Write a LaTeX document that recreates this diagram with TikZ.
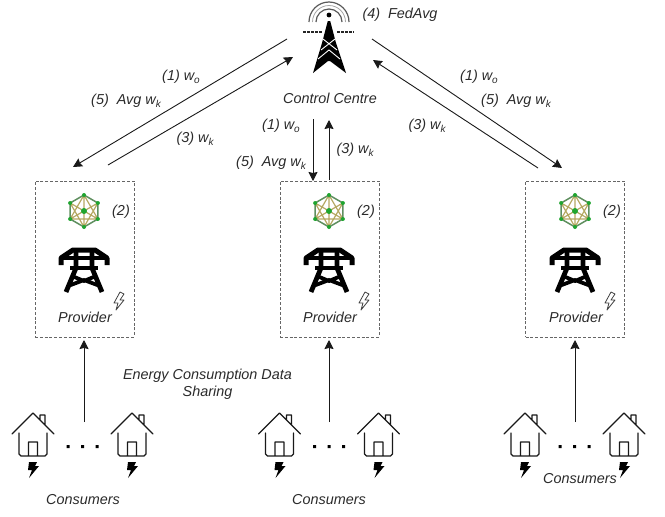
\documentclass[tikz,border=0pt]{standalone}
\usepackage{fontspec}
\setmainfont{Liberation Sans}
\usetikzlibrary{arrows.meta}
\definecolor{txt}{HTML}{2A2A2A}
\definecolor{netgreen}{HTML}{5F8F5F}
\definecolor{netolive}{HTML}{B5A862}
\definecolor{netdot}{HTML}{1FA52F}
\newcommand{\lowsub}[1]{\raisebox{-0.35ex}{\fontsize{10}{12}\selectfont #1}}
\tikzset{
  x=1pt,y=-1pt,
  lbl/.style={font=\itshape\fontsize{14.4}{17}\selectfont,text=txt,inner sep=0pt,align=center},
  conn/.style={draw=black!90,line width=0.9pt,-{Stealth[inset=1pt,length=9pt,width=9pt]}},
  provbox/.style={draw=black!60,dash pattern=on 3pt off 1.8pt,line width=0.9pt,minimum width=99pt,minimum height=156pt,inner sep=0pt},
  pics/tower/.style={code={
    \draw[line width=1.2pt,black!65] (-20,-16) arc[start angle=180,end angle=360,radius=20];
    \draw[line width=0.8pt,black!35] (-16.5,-16) arc[start angle=180,end angle=360,radius=16.5];
    \draw[line width=1.2pt,black!65] (-13,-16) arc[start angle=180,end angle=360,radius=13];
    \fill[black] (0,-23) circle[radius=2.4];
    \draw[black!85,line width=1.6pt,dash pattern=on 3pt off 1pt] (-26,-6)--(-6,-6) (8,-6)--(25,-6);
    \fill[black] (-1.2,-17)--(1.2,-17)--(7,5)--(17,35)--(1,23)--(-1,23)--(-16,35)--(-7,5)--cycle;
    \draw[white,line width=0.9pt] (-6,1)--(8,12) (6,1)--(-8,12) (-11,21)--(0,12)--(11,21);
  }},
  pics/pylon/.style={code={
    \draw[black,line width=5pt,line join=round] (-23,-6)--(-23,-13)--(-11,-21)--(11,-21)--(23,-13)--(23,-6);
    \draw[black,line width=4.2pt] (-23,-13)--(23,-13) (-14,-3)--(14,-3);
    \draw[black,line width=4.8pt] (-8,-21)--(-8,-3)--(-18,21) (8,-21)--(8,-3)--(18,21);
    \draw[black,line width=3.8pt] (-12,5)--(0,10)--(12,5) (-16,15)--(0,9)--(16,15);
  }},
  pics/meshnet/.style={code={
    \foreach \a in {90,150,210,270,330,30}{\coordinate (-v\a) at ({16*cos(\a)},{16*sin(\a)});}
    \coordinate (-c) at (0,0);
    \draw[netolive,line width=1.2pt]
      (-v90)--(-v210) (-v90)--(-v330) (-v150)--(-v30) (-v150)--(-v330) (-v210)--(-v30) (-v270)--(-v150) (-v270)--(-v30)
      (-v90)--(-v270) (-v150)--(-c) (-v210)--(-c) (-v30)--(-c) (-v330)--(-c);
    \draw[netgreen,line width=1.5pt] (-v90)--(-v150)--(-v210)--(-v270)--(-v330)--(-v30)--cycle;
    \foreach \a in {90,150,210,270,330,30}{\fill[netdot] (-v\a) circle[radius=2];}
    \fill[netdot] (-c) circle[radius=3];
  }},
  pics/outbolt/.style={code={
    \draw[black!75,line width=0.8pt,line join=round] (1,-9)--(-5,2)--(-1,2)--(-3,9)--(5,-1)--(1,-1)--(5,-7)--cycle;
  }},
  pics/house/.style={code={
    \draw[black!90,line width=1.4pt,line cap=round,line join=round]
      (-21,0)--(0,-21)--(21,0)
      (-14,-1)--(-14,20)--(-12,22)--(12,22)--(14,20)--(14,-1)
      (-4.5,22)--(-4.5,8)--(4.5,8)--(4.5,22)
      (7,-14)--(7,-19)--(12,-19)--(12,-9);
    \fill[black] (-4,28)--(4,28)--(2,32)--(6,32)--(-4,44)--(-1,36)--(-5,36)--cycle;
  }},
  pics/consumers/.style={code={
    \pic at (-49.5,20) {house};
    \pic at (49.5,20) {house};
    \fill[black] (-16,31) rectangle (-13,34) (-1.5,31) rectangle (1.5,34) (13,31) rectangle (16,34);
  }}
}
\begin{document}
\begin{tikzpicture}
\useasboundingbox (0,0) rectangle (665,517);
% control centre
\pic at (329,38) {tower};
\node[lbl] (cc) at (330,98) {Control Centre};
\node[lbl] (fed) at (400,15) {(4)\ \ FedAvg};
% provider boxes
\node[provbox] (p1) at (84.5,259) {};
\node[provbox] (p2) at (329.5,259) {};
\node[provbox] (p3) at (575,259) {};
\foreach \b/\n in {84/a,329/b,575/c}{
  \pic (net\n) at (\b,211) {meshnet};
  \pic at (\b,271) {pylon};
  \pic at (\b+35,301) {outbolt};
  \node[lbl] (prov\n) at (\b+1,317) {Provider};
  \node[lbl] (two\n) at (\b+37,212) {(2)};
}
% consumers
\pic at (82.5,414) {consumers};
\pic at (329,414) {consumers};
\pic at (574.5,414) {consumers};
\node[lbl] (c1) at (83,500) {Consumers};
\node[lbl] (c2) at (329,500) {Consumers};
\node[lbl] (c3) at (580,479) {Consumers};
\node[lbl] (share) at (207.5,384) {Energy Consumption Data\\Sharing};
% connector ends
\coordinate (h1) at (84,422); \coordinate (h2) at (329,422); \coordinate (h3) at (575,422);
\coordinate (b1) at (84,340); \coordinate (b2) at (329,340); \coordinate (b3) at (575,340);
\coordinate (l1s) at (287,39); \coordinate (l1e) at (73,167);
\coordinate (l3s) at (108,165); \coordinate (l3e) at (293,57);
\coordinate (m1s) at (313,119); \coordinate (m1e) at (313,181);
\coordinate (m3s) at (329,180); \coordinate (m3e) at (329,120);
\coordinate (r1s) at (372,39); \coordinate (r1e) at (562,168);
\coordinate (r3s) at (538,168); \coordinate (r3e) at (373,60);
\foreach \s/\e in {h1/b1,h2/b2,h3/b3,l1s/l1e,l3s/l3e,m1s/m1e,m3s/m3e,r1s/r1e,r3s/r3e}{
  \draw[conn] (\s)--(\e);
}
% labels
\node[lbl] (a1) at (181,77) {(1) w\lowsub{o}};
\node[lbl] (a2) at (126,101) {(5)\ \ Avg w\lowsub{k}};
\node[lbl] (a3) at (195,139) {(3) w\lowsub{k}};
\node[lbl] (b1l) at (281,126) {(1) w\lowsub{o}};
\node[lbl] (b2l) at (271,163) {(5)\ \ Avg w\lowsub{k}};
\node[lbl] (b3l) at (355,150) {(3) w\lowsub{k}};
\node[lbl] (c1l) at (479,77) {(1) w\lowsub{o}};
\node[lbl] (c2l) at (516,101) {(5)\ \ Avg w\lowsub{k}};
\node[lbl] (c3l) at (427,126) {(3) w\lowsub{k}};
\end{tikzpicture}
\end{document}
